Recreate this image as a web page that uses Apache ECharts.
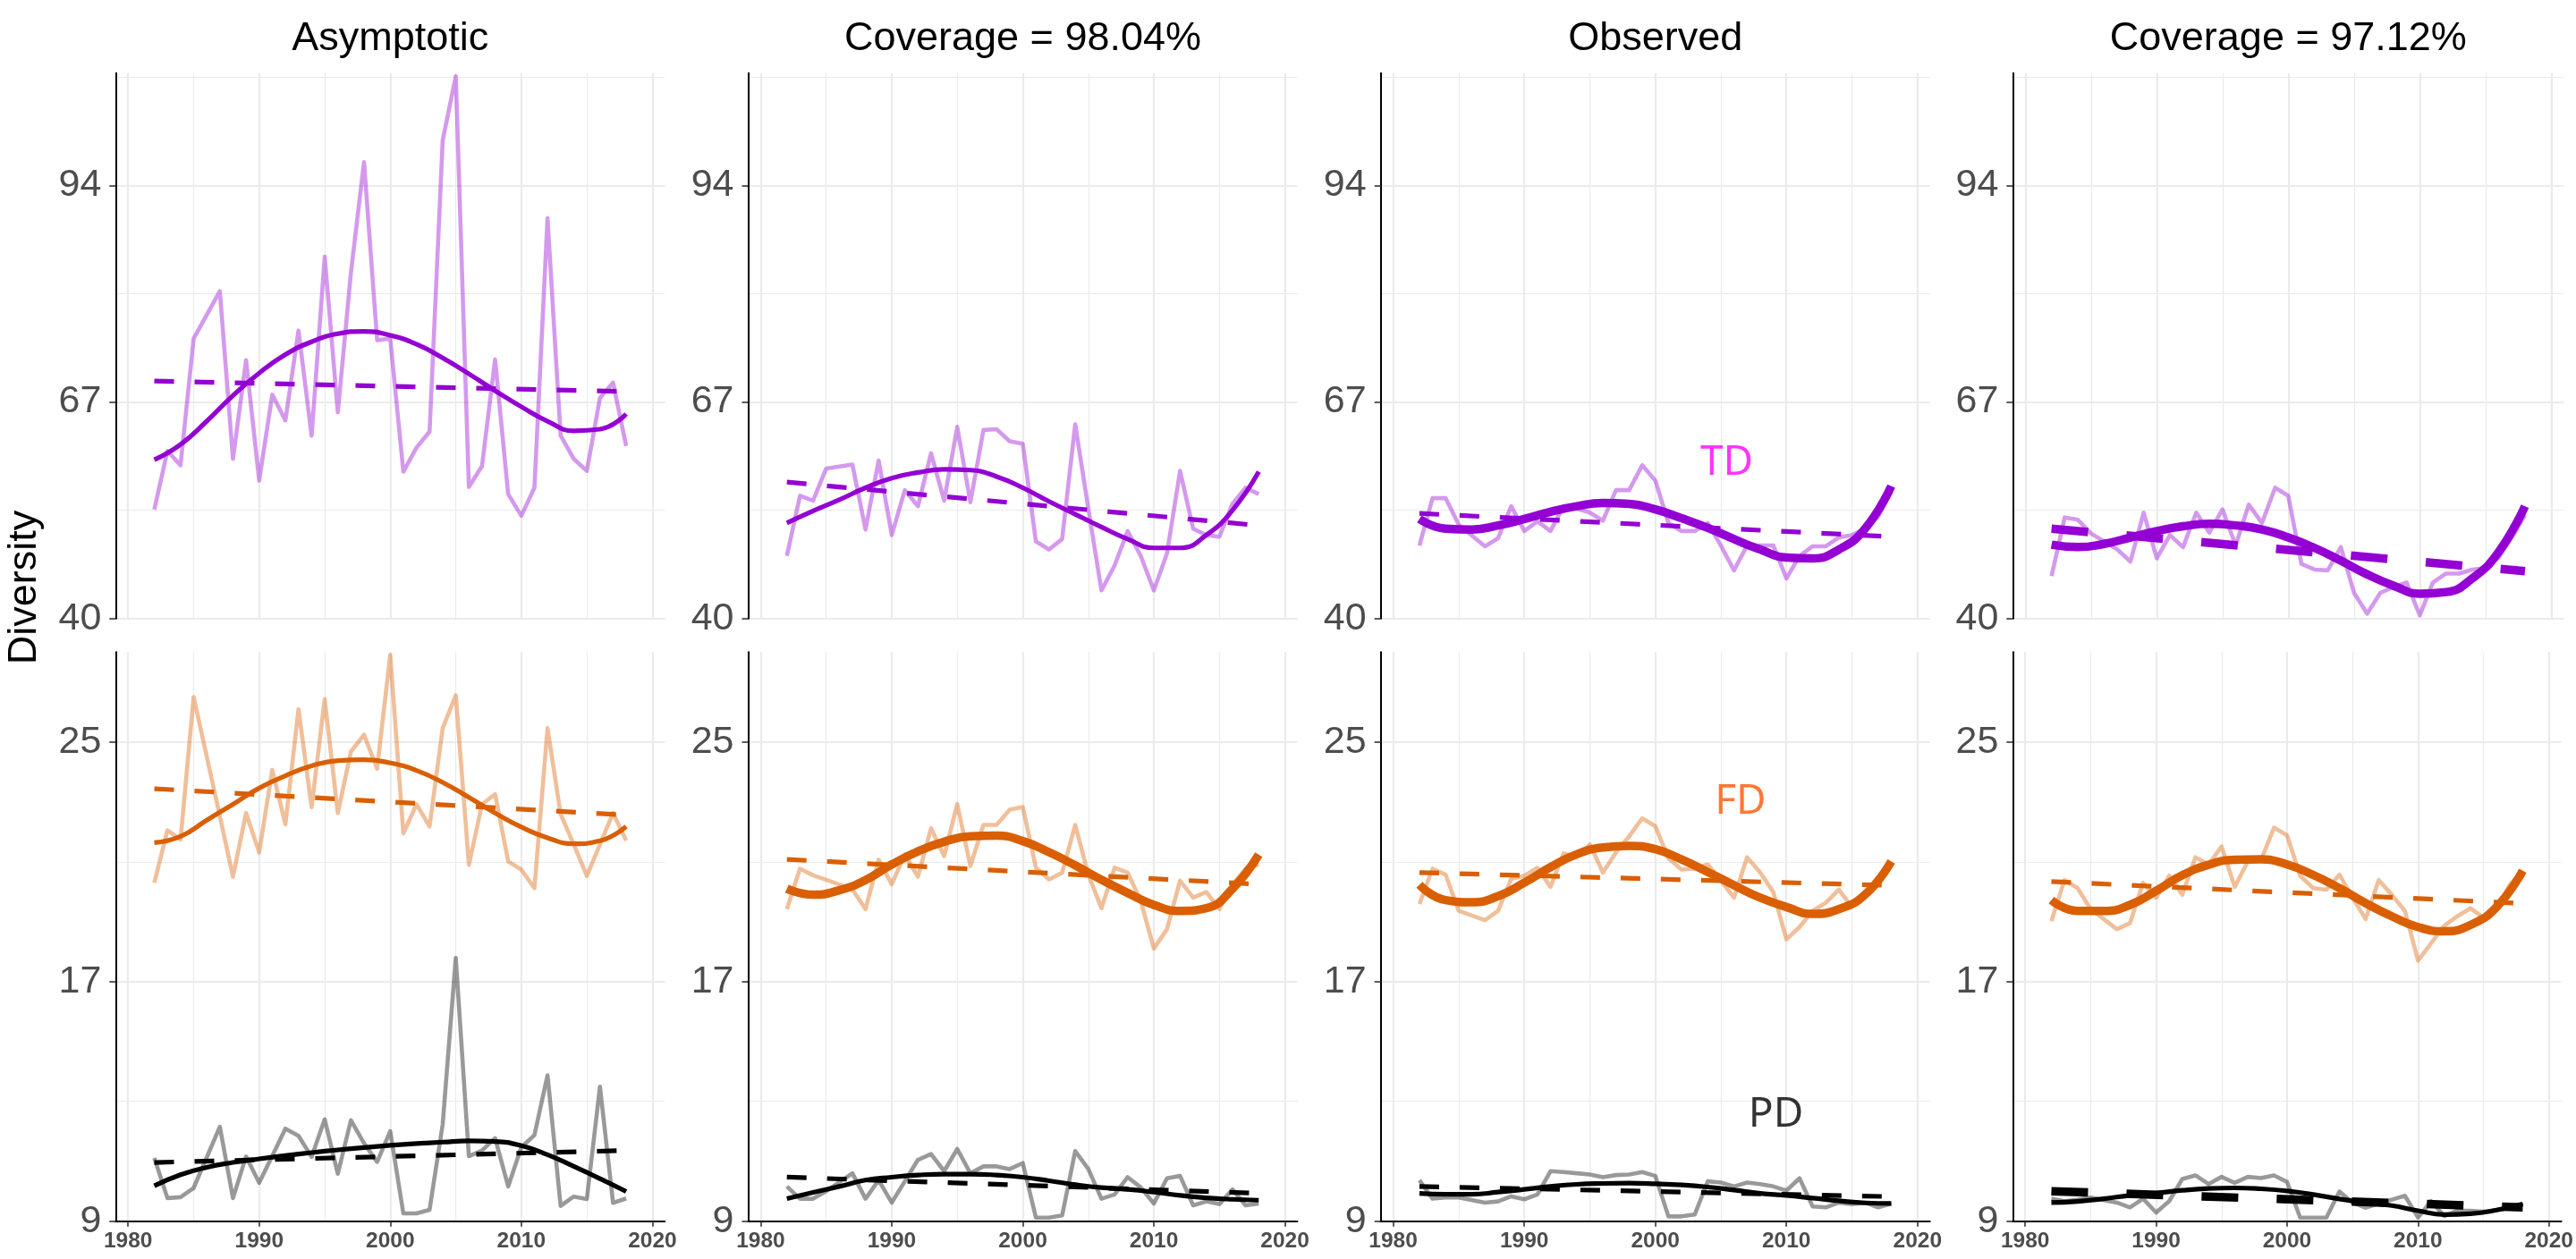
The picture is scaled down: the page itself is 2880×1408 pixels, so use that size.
<!DOCTYPE html>
<html><head><meta charset="utf-8">
<script src="https://cdn.jsdelivr.net/npm/echarts@6/dist/echarts.min.js"></script>
<style>html,body{margin:0;padding:0;background:#fff;}#c{width:2880px;height:1408px;}</style>
</head><body><div id="c"></div>
<script>
// ---------------- data ----------------
const years = [1982,1983,1984,1985,1987,1988,1989,1990,1991,1992,1993,1994,1995,1996,1997,1998,1999,2000,2001,2002,2003,2004,2005,2006,2007,2008,2009,2010,2011,2012,2013,2014,2015,2016,2017,2018];

const tdAsym = [53.6,60.9,59.1,74.9,80.8,59.9,72.2,57.2,67.9,64.7,75.9,62.8,85.1,65.7,83.1,96.9,74.7,74.9,58.3,61.3,63.3,99.6,107.6,56.4,59.0,72.3,55.5,52.8,56.3,89.9,62.8,59.9,58.4,67.5,69.4,61.5];
const fdAsym = [20.30,22.05,21.74,26.50,22.52,20.50,22.63,21.31,24.07,22.25,26.09,22.82,26.43,22.63,24.68,25.24,24.11,27.91,21.95,22.92,22.18,25.46,26.56,20.90,22.92,23.26,21.01,20.74,20.12,25.46,22.59,21.58,20.53,21.58,22.63,21.71];
const pdAsym = [11.11,9.77,9.80,10.11,12.15,9.77,11.16,10.28,11.18,12.09,11.85,11.15,12.40,10.58,12.37,11.60,10.98,12.00,9.26,9.26,9.38,12.23,17.79,11.17,11.36,11.77,10.16,11.47,11.87,13.87,9.51,9.82,9.74,13.49,9.61,9.76];

const tdCov98 = [47.8,55.3,54.7,58.7,59.2,51.1,59.7,50.4,56.0,54.0,60.6,54.7,63.9,54.5,63.5,63.6,62.1,61.8,49.6,48.6,49.9,64.2,53.7,43.5,46.6,50.9,47.8,43.5,48.1,58.4,51.2,50.4,50.2,54.3,56.3,55.5];
const fdCov98 = [19.42,20.77,20.55,20.40,20.08,19.42,21.07,20.25,21.24,20.50,22.12,21.19,22.93,20.86,22.23,22.23,22.74,22.83,20.80,20.41,20.63,22.23,20.57,19.45,20.80,20.64,19.69,18.10,18.75,20.37,19.80,19.99,19.42,20.23,20.77,20.91];
const pdCov98 = [10.16,9.75,9.75,10.00,10.60,9.75,10.37,9.62,10.33,11.05,11.24,10.67,11.41,10.60,10.83,10.83,10.74,10.94,9.12,9.12,9.19,11.34,10.74,9.75,9.89,10.47,10.13,9.59,10.43,10.51,9.53,9.66,9.57,10.06,9.53,9.59];

const tdObs = [49.1,55.0,55.0,51.7,49.0,50.0,54.0,50.9,52.1,50.9,54.0,53.7,53.2,52.2,56.0,56.0,59.1,57.2,51.9,50.9,50.9,51.9,49.1,46.0,49.1,49.1,49.1,45.0,47.8,49.0,49.0,50.1,50.4,51.2,52.7,55.8];
const fdObs = [19.59,20.77,20.57,19.36,19.05,19.36,20.43,20.53,20.80,20.16,21.28,21.17,21.58,20.64,21.31,21.85,22.45,22.19,21.11,20.74,20.77,20.91,20.37,19.80,21.15,20.64,19.99,18.41,18.82,19.36,19.63,20.07,19.49,19.96,20.43,20.91];
const pdObs = [10.37,9.75,9.79,9.79,9.62,9.66,9.83,9.73,9.89,10.67,10.64,10.60,10.56,10.47,10.54,10.56,10.64,10.51,9.16,9.16,9.22,10.33,10.29,10.16,10.29,10.24,10.16,10.02,10.43,9.49,9.46,9.62,9.57,9.62,9.46,9.59];

const tdCov97 = [45.3,52.6,52.3,50.6,48.6,47.1,53.2,47.5,50.4,48.9,53.2,50.7,53.6,49.1,54.2,51.9,56.3,55.3,46.8,46.1,46.0,48.9,43.2,40.6,43.2,43.9,44.5,40.4,44.5,45.6,45.6,46.1,46.3,47.6,50.1,52.9];
const fdCov97 = [19.02,20.39,20.12,19.42,18.75,18.95,20.30,19.80,20.53,19.90,21.15,20.91,21.51,20.16,21.01,21.04,22.14,21.88,20.53,20.12,20.07,20.57,19.80,19.09,20.39,19.90,19.36,17.70,18.28,18.86,19.18,19.45,19.13,19.42,20.23,20.70];
const pdCov97 = [9.75,9.66,9.72,9.79,9.62,9.46,9.75,9.29,9.67,10.41,10.53,10.24,10.48,10.28,10.48,10.44,10.53,10.31,9.12,9.12,9.12,9.99,9.62,9.45,9.59,9.72,9.85,9.12,9.67,9.17,9.35,9.35,9.32,9.37,9.45,9.57];

// smooth fitted curves at these years
const fitYears = [1982,1984,1986,1988,1990,1992,1994,1996,1998,2000,2002,2004,2006,2008,2010,2012,2014,2016,2018];
const tdAsymFit  = [59.8,61.7,64.6,67.8,70.6,72.9,74.5,75.5,75.8,75.3,74.2,72.5,70.5,68.4,66.4,64.6,63.4,63.6,65.5];
const fdAsymFit  = [21.64,21.85,22.39,22.92,23.46,23.87,24.20,24.38,24.41,24.30,24.05,23.65,23.15,22.63,22.16,21.80,21.60,21.70,22.18];
const pdAsymFit  = [10.18,10.55,10.80,10.96,11.08,11.19,11.29,11.38,11.46,11.53,11.59,11.64,11.68,11.66,11.52,11.22,10.83,10.42,9.99];
const tdCov98Fit = [51.9,53.4,54.8,56.3,57.5,58.2,58.6,58.5,57.7,56.3,54.6,53.0,51.4,49.9,48.8,48.8,50.4,53.5,58.3];
const fdCov98Fit = [20.10,19.90,20.05,20.39,20.91,21.35,21.67,21.85,21.87,21.69,21.32,20.88,20.40,19.96,19.56,19.36,19.45,20.10,21.24];
const pdCov98Fit = [9.75,9.96,10.16,10.37,10.47,10.54,10.57,10.57,10.54,10.47,10.35,10.22,10.12,10.06,9.97,9.86,9.78,9.73,9.70];
const tdObsFit   = [52.4,51.2,51.1,51.6,52.4,53.3,54.0,54.4,54.3,53.6,52.5,51.3,49.9,48.6,47.6,47.5,48.6,51.2,56.5];
const fdObsFit   = [20.23,19.72,19.65,19.85,20.30,20.82,21.25,21.48,21.53,21.42,21.08,20.66,20.22,19.80,19.49,19.26,19.42,19.90,21.01];
const pdObsFit   = [9.93,9.90,9.90,9.97,10.06,10.16,10.23,10.26,10.27,10.25,10.21,10.14,10.04,9.93,9.86,9.77,9.68,9.61,9.59];
const tdCov97Fit = [49.2,48.9,49.3,50.1,50.9,51.5,51.8,51.6,51.1,50.1,48.8,47.2,45.5,44.1,43.1,43.3,45.0,48.3,54.0];
const fdCov97Fit = [19.72,19.36,19.36,19.56,20.03,20.55,20.90,21.07,21.08,20.91,20.56,20.12,19.62,19.18,18.82,18.68,18.89,19.49,20.70];
const pdCov97Fit = [9.62,9.66,9.75,9.86,9.94,10.03,10.09,10.11,10.08,10.01,9.89,9.74,9.62,9.52,9.35,9.22,9.25,9.37,9.57];

// linear trends (start, end)
const trendYears = [1982, 2018];
const tdAsymTrend = [69.6, 68.3],  fdAsymTrend = [23.44, 22.56], pdAsymTrend = [10.96, 11.36];
const tdCov98Trend = [57.0, 51.6], fdCov98Trend = [21.08, 20.25], pdCov98Trend = [10.47, 9.93];
const tdObsTrend = [53.1, 50.2],   fdObsTrend = [20.64, 20.21],   pdObsTrend = [10.16, 9.82];
const tdCov97Trend = [51.2, 45.9], fdCov97Trend = [20.34, 19.61], pdCov97Trend = [10.0, 9.46];

const panelTitles = ['Asymptotic', 'Coverage = 98.04%', 'Observed', 'Coverage = 97.12%'];
const xTicks = [1980, 1990, 2000, 2010, 2020];
const xMinorTicks = [1985, 1995, 2005, 2015];
const yTicksTop = [40, 67, 94], yMinorTop = [53.5, 80.5, 107.5];
const yTicksBottom = [9, 17, 25], yMinorBottom = [13, 21];
const labelTD = [2005.45, 59.4], labelFD = [2006.5, 23.0], labelPD = [2009.2, 12.55];

// ---------------- layout / style ----------------
const FONT = '"Liberation Sans", Arial, Helvetica, sans-serif';
const colLeft = [129.3, 836.5, 1543.7, 2250.3];
const colWidth = [614, 614, 614, 616];
const rowTop = [81.7, 729.3];
const rowHeight = [610, 636.4];
const X_MIN = 1979.05, X_MAX = 2020.95;
const yRange = [[40, 108], [9, 28]];
const THIN = 5.2, THICK = 9.5, RAW = 4.6;
const rawColor = {td: 'rgba(148,0,211,0.4)', fd: 'rgba(217,95,2,0.4)', pd: 'rgba(0,0,0,0.4)'};
const fitColor = {td: '#9400D3', fd: '#D95F02', pd: '#000000'};

const panels = [
  {td: tdAsym, fd: fdAsym, pd: pdAsym, tdF: tdAsymFit, fdF: fdAsymFit, pdF: pdAsymFit,
   tdT: tdAsymTrend, fdT: fdAsymTrend, pdT: pdAsymTrend,
   w: {tdF: THIN, fdF: THIN, pdF: THIN, tdT: THIN, fdT: THIN, pdT: THIN}},
  {td: tdCov98, fd: fdCov98, pd: pdCov98, tdF: tdCov98Fit, fdF: fdCov98Fit, pdF: pdCov98Fit,
   tdT: tdCov98Trend, fdT: fdCov98Trend, pdT: pdCov98Trend,
   w: {tdF: THIN, fdF: THICK, pdF: THIN, tdT: THIN, fdT: THIN, pdT: THIN}},
  {td: tdObs, fd: fdObs, pd: pdObs, tdF: tdObsFit, fdF: fdObsFit, pdF: pdObsFit,
   tdT: tdObsTrend, fdT: fdObsTrend, pdT: pdObsTrend,
   w: {tdF: THICK, fdF: THICK, pdF: THIN, tdT: THIN, fdT: THIN, pdT: THIN}},
  {td: tdCov97, fd: fdCov97, pd: pdCov97, tdF: tdCov97Fit, fdF: fdCov97Fit, pdF: pdCov97Fit,
   tdT: tdCov97Trend, fdT: fdCov97Trend, pdT: pdCov97Trend,
   w: {tdF: THICK, fdF: THICK, pdF: THIN, tdT: THICK, fdT: THIN, pdT: THICK}}
];

const grids = [], xAxes = [], yAxes = [], series = [];
for (let r = 0; r < 2; r++) {
  for (let c = 0; c < 4; c++) {
    const g = r * 4 + c;
    grids.push({left: colLeft[c], top: rowTop[r], width: colWidth[c], height: rowHeight[r], containLabel: false});
    const bottom = r === 1;
    xAxes.push({
      gridIndex: g, type: 'value', min: X_MIN, max: X_MAX, position: 'bottom',
      axisLine: {show: bottom, onZero: false, lineStyle: {color: '#000', width: 2}},
      axisTick: {show: bottom, customValues: xTicks, length: 6, lineStyle: {color: '#333', width: 1.6}},
      axisLabel: {show: bottom, customValues: xTicks, formatter: v => String(v), fontSize: 24.5, fontWeight: 'bold', color: '#4D4D4D', margin: 10, fontFamily: FONT},
      splitLine: {show: true, lineStyle: {color: '#EBEBEB', width: 2.2}}
    });
    xAxes.push({
      gridIndex: g, type: 'value', min: X_MIN, max: X_MAX, position: 'top',
      axisLine: {show: false}, axisTick: {show: false, customValues: xMinorTicks},
      axisLabel: {show: false, customValues: xMinorTicks},
      splitLine: {show: true, lineStyle: {color: '#EBEBEB', width: 1.2}}
    });
    const majT = r === 0 ? yTicksTop : yTicksBottom;
    const minT = r === 0 ? yMinorTop : yMinorBottom;
    yAxes.push({
      gridIndex: g, type: 'value', min: yRange[r][0], max: yRange[r][1], position: 'left',
      axisLine: {show: true, onZero: false, lineStyle: {color: '#000', width: 2}},
      axisTick: {show: true, customValues: majT, length: 7, lineStyle: {color: '#333', width: 1.6}},
      axisLabel: {show: true, customValues: majT, formatter: v => String(v), fontSize: 43, color: '#4D4D4D', margin: 16, fontFamily: FONT},
      splitLine: {show: true, lineStyle: {color: '#EBEBEB', width: 2.2}}
    });
    yAxes.push({
      gridIndex: g, type: 'value', min: yRange[r][0], max: yRange[r][1], position: 'right',
      axisLine: {show: false}, axisTick: {show: false, customValues: minT},
      axisLabel: {show: false, customValues: minT},
      splitLine: {show: true, lineStyle: {color: '#EBEBEB', width: 1.2}}
    });
  }
}

function pairs(xs, ys) { return xs.map((x, i) => [x, ys[i]]); }
function line(g, data, color, width, opts) {
  return Object.assign({
    type: 'line', xAxisIndex: 2 * g, yAxisIndex: 2 * g, data: data,
    symbol: 'none', showSymbol: false, silent: true, animation: false,
    lineStyle: Object.assign({color: color, width: width, join: 'round', cap: 'butt'}, (opts && opts.ls) || {})
  }, (opts && opts.extra) || {});
}
function dashFor(w) { return w > 7 ? [41, 43] : [22, 23]; }

panels.forEach((p, c) => {
  const gTop = c, gBot = 4 + c;
  [['td', gTop], ['fd', gBot], ['pd', gBot]].forEach(([k, g]) => {
    series.push(line(g, pairs(years, p[k]), rawColor[k], RAW, {extra: {z: 2}}));
  });
  [['td', gTop], ['fd', gBot], ['pd', gBot]].forEach(([k, g]) => {
    series.push(line(g, pairs(fitYears, p[k + 'F']), fitColor[k], p.w[k + 'F'], {extra: {z: 3, smooth: 0.5}}));
  });
  [['td', gTop], ['fd', gBot], ['pd', gBot]].forEach(([k, g]) => {
    const w = p.w[k + 'T'];
    series.push(line(g, pairs(trendYears, p[k + 'T']), fitColor[k], w, {ls: {type: dashFor(w)}, extra: {z: 4}}));
  });
});

function annot(g, pt, text, color) {
  return {
    type: 'scatter', xAxisIndex: 2 * g, yAxisIndex: 2 * g, data: [pt], symbolSize: 1, silent: true, z: 5,
    itemStyle: {color: 'rgba(0,0,0,0)'},
    label: {show: true, position: 'inside', formatter: text, color: color, fontSize: 46, fontFamily: '"Noto Sans", "Open Sans", sans-serif'}
  };
}
series.push(annot(2, labelTD, 'TD', '#FF00FF'));
series.push(annot(6, labelFD, 'FD', '#FF5500'));
series.push(annot(6, labelPD, 'PD', '#000000'));

const graphics = panelTitles.map((t, c) => ({
  type: 'text', x: colLeft[c] + colWidth[c] / 2, y: 44, silent: true,
  style: {text: t, fill: '#000', font: '45px ' + FONT, align: 'center', verticalAlign: 'middle'}
}));
graphics.push({
  type: 'text', x: 28, y: 657, rotation: Math.PI / 2, silent: true,
  style: {text: 'Diversity', fill: '#000', font: '45px ' + FONT, align: 'center', verticalAlign: 'middle'}
});

const chart = echarts.init(document.getElementById('c'), null, {renderer: 'canvas'});
chart.setOption({
  animation: false,
  backgroundColor: '#ffffff',
  grid: grids, xAxis: xAxes, yAxis: yAxes, series: series,
  graphic: {elements: graphics}
});
</script></body></html>
